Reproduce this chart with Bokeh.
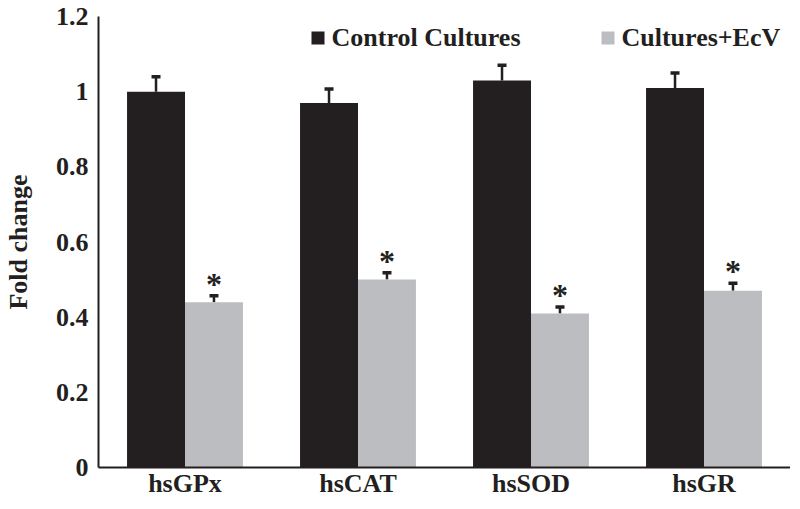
from bokeh.plotting import figure
from bokeh.models import (ColumnDataSource, FactorRange, Range1d, FixedTicker, Whisker,
                          TeeHead, Label, BoxAnnotation)
from bokeh.transform import dodge
from bokeh.core.properties import value
from bokeh.embed import file_html
from bokeh.resources import INLINE

# ---- data ----
categories = ["hsGPx", "hsCAT", "hsSOD", "hsGR"]
control = [1.00, 0.97, 1.03, 1.01]
control_err = [0.04, 0.037, 0.04, 0.04]
ecv = [0.44, 0.50, 0.41, 0.47]
ecv_err = [0.017, 0.018, 0.017, 0.02]
y_ticks = [0, 0.2, 0.4, 0.6, 0.8, 1, 1.2]
y_tick_labels = ["0", "0.2", "0.4", "0.6", "0.8", "1", "1.2"]
series_names = ["Control Cultures", "Cultures+EcV"]

BLACK = "#231f20"
GRAY = "#bcbdc0"
FONT = "Liberation Serif"
FS = "26px"
series_colors = [BLACK, GRAY]

src = ColumnDataSource(dict(
    cat=categories,
    control=control,
    control_top=[v + e for v, e in zip(control, control_err)],
    ecv=ecv,
    ecv_top=[v + e for v, e in zip(ecv, ecv_err)],
    star=["*"] * len(categories),
))

p = figure(x_range=FactorRange(factors=categories), y_range=Range1d(0, 1.2),
           width=790, height=500, output_backend="svg", toolbar_location=None,
           min_border_left=96, min_border_right=0, min_border_top=16, min_border_bottom=0)
p.outline_line_color = None
p.grid.grid_line_color = None
p.background_fill_color = "white"

off = 0.1675
bw = 0.335
p.vbar(x=dodge("cat", -off, range=p.x_range), top="control", width=bw, source=src,
       fill_color=BLACK, line_color=None)
p.vbar(x=dodge("cat", off, range=p.x_range), top="ecv", width=bw, source=src,
       fill_color=GRAY, line_color=None)

for top, base_col, xoff in [("control_top", "control", -off), ("ecv_top", "ecv", off)]:
    w = Whisker(base=dodge("cat", xoff, range=p.x_range), upper=top, lower=base_col,
                source=src, line_color=BLACK, line_width=2.5,
                upper_head=TeeHead(size=9, line_color=BLACK, line_width=3.5),
                lower_head=None)
    p.add_layout(w)

p.text(x=dodge("cat", off, range=p.x_range), y="ecv_top", text="star", source=src,
       text_font=value(FONT), text_font_style="bold", text_font_size="32px",
       text_align="center", text_baseline="alphabetic", text_color=BLACK,
       y_offset=-12)

# axes
for ax in (p.xaxis[0], p.yaxis[0]):
    ax.axis_line_color = BLACK
    ax.axis_line_width = 2
    ax.major_tick_line_color = None
    ax.minor_tick_line_color = None
    ax.major_tick_out = 0
    ax.major_tick_in = 0
    ax.major_label_text_font = FONT
    ax.major_label_text_font_style = "bold"
    ax.major_label_text_font_size = FS
    ax.major_label_text_color = BLACK

p.yaxis.ticker = FixedTicker(ticks=y_ticks)
p.yaxis.major_label_overrides = {t: l for t, l in zip(y_ticks, y_tick_labels)}
p.yaxis.major_label_standoff = 10
p.yaxis.axis_label = "Fold change"
p.yaxis.axis_label_text_font = FONT
p.yaxis.axis_label_text_font_style = "bold"
p.yaxis.axis_label_text_font_size = FS
p.yaxis.axis_label_text_color = BLACK
p.yaxis.axis_label_standoff = 20
p.xaxis.major_label_standoff = 1

# legend (swatch + label, positioned in screen px from the frame's bottom-left)
legend_x = [213, 503]
for name, color, lx in zip(series_names, series_colors, legend_x):
    p.add_layout(BoxAnnotation(left=lx, right=lx + 13, bottom=423, top=436,
                               left_units="screen", right_units="screen",
                               bottom_units="screen", top_units="screen",
                               fill_color=color, fill_alpha=1, line_color=None))
    p.add_layout(Label(x=lx + 20, y=430, x_units="screen", y_units="screen",
                       text=name, text_font=FONT, text_font_style="bold",
                       text_font_size=FS, text_color=BLACK,
                       text_baseline="middle", text_align="left"))

open("out.html", "w").write(file_html(p, INLINE))
